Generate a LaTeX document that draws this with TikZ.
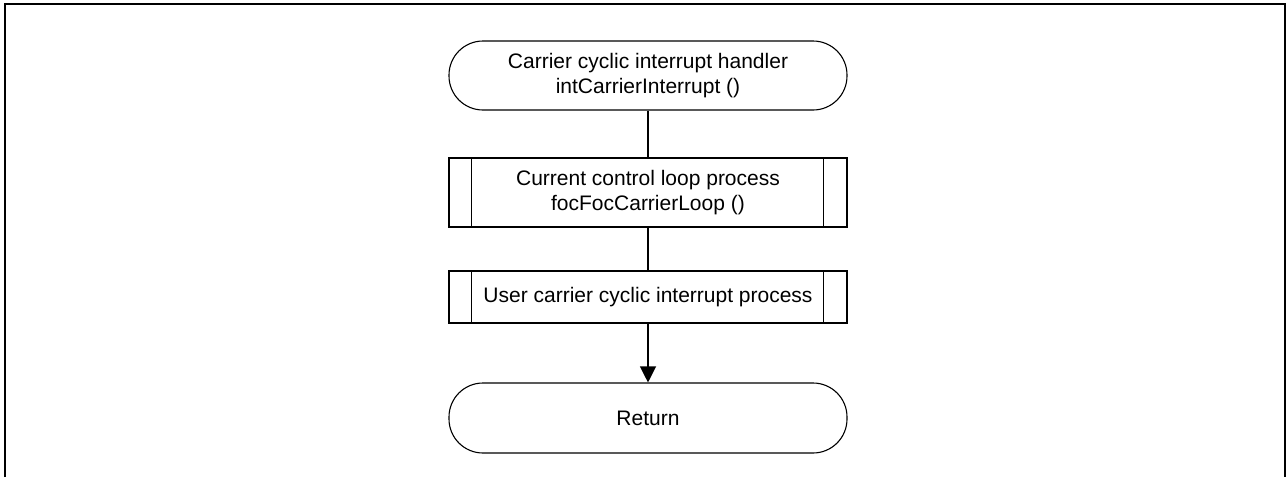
\documentclass[tikz,border=0pt]{standalone}
\usepackage{fontspec}
\setmainfont{Liberation Sans}
\usetikzlibrary{arrows.meta}
\begin{document}
\begin{tikzpicture}[x=1pt,y=-1pt,
  every node/.style={font=\fontsize{21}{25}\selectfont, align=center, inner sep=0pt},
  term/.style={draw, line width=1.1pt, rectangle, rounded corners=34pt, minimum width=398pt},
  proc/.style={draw, line width=1.1pt, rectangle, minimum width=398pt},
  conn/.style={line width=1.1pt}]
\useasboundingbox (0,0) rectangle (1287,477);
\draw[line width=2.2pt] (5,477) -- (5,4) -- (1285,4) -- (1285,477);
\node[term, minimum height=69pt] (t1) at (648,75.5) {Carrier cyclic interrupt handler\\intCarrierInterrupt ()};
\node[proc, minimum height=69pt] (p1) at (648,192.5) {Current control loop process\\focFocCarrierLoop ()};
\node[proc, minimum height=52pt] (p2) at (648,297) {User carrier cyclic interrupt process};
\node[term, minimum height=70pt] (ret) at (648,418) {Return};
\foreach \n in {p1,p2}{
  \draw[conn] ([xshift=23pt]\n.north west) -- ([xshift=23pt]\n.south west);
  \draw[conn] ([xshift=-24pt]\n.north east) -- ([xshift=-24pt]\n.south east);
}
\draw[conn] (t1.south) -- (p1.north);
\draw[conn] (p1.south) -- (p2.north);
\draw[conn, -{Triangle[length=16pt,width=16pt]}] (p2.south) -- (ret.north);
\end{tikzpicture}
\end{document}
